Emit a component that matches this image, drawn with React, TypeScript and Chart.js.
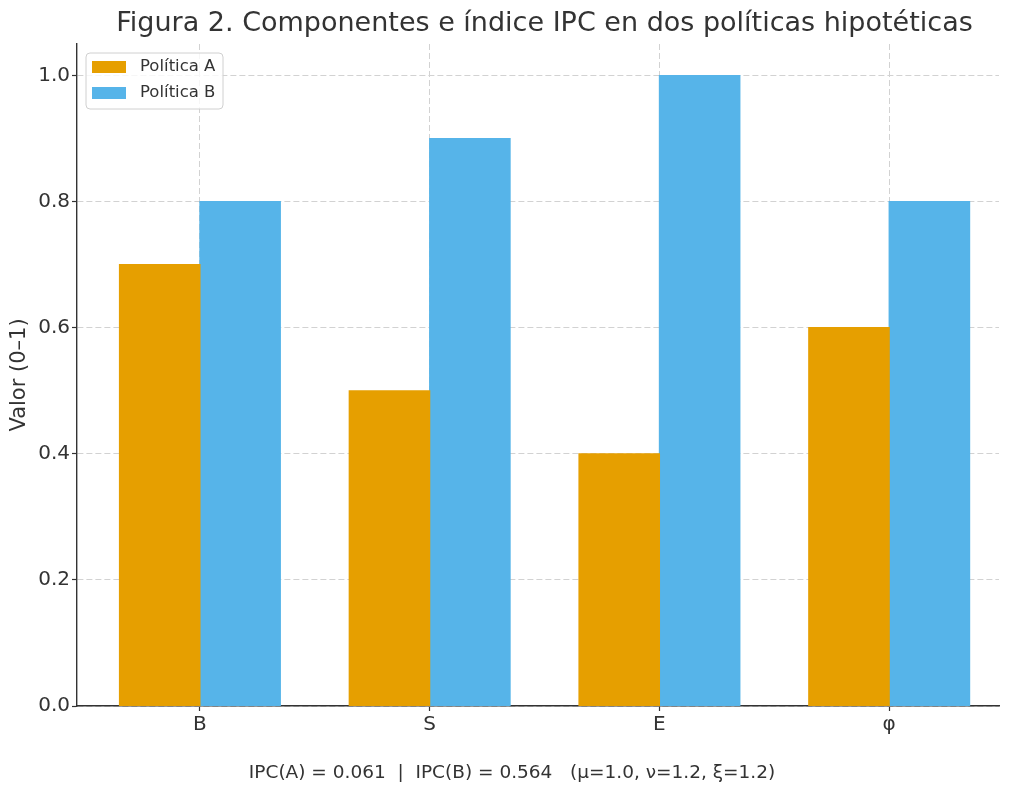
import React, { useEffect, useRef } from "react";
import { Chart, registerables } from "chart.js";

Chart.register(...registerables);

const categories = ["B", "S", "E", "φ"];
const politicaA = [0.7, 0.5, 0.4, 0.6];
const politicaB = [0.8, 0.9, 1.0, 0.8];
const yTicks = [0, 0.2, 0.4, 0.6, 0.8, 1.0];
const seriesNames = ["Política A", "Política B"];
const seriesColors = ["#E69F00", "#56B4E9"];
const titleText = "Figura 2. Componentes e índice IPC en dos políticas hipotéticas";
const footerText = "IPC(A) = 0.061  |  IPC(B) = 0.564   (μ=1.0, ν=1.2, ξ=1.2)";
const yLabel = "Valor (0–1)";

const FONT = "'DejaVu Sans', sans-serif";
const TEXT = "#333333";
const GRID = "#d2d2d2";

const legendPlugin = {
  id: "insideLegend",
  afterDatasetsDraw(chart: any) {
    const { ctx, chartArea } = chart;
    const x = chartArea.left + 9;
    const y = chartArea.top + 9;
    const w = 137;
    const h = 56;
    ctx.save();
    ctx.beginPath();
    ctx.roundRect(x, y, w, h, 4);
    ctx.fillStyle = "rgba(255,255,255,0.8)";
    ctx.fill();
    ctx.strokeStyle = "#d0d0d0";
    ctx.lineWidth = 1;
    ctx.stroke();
    ctx.font = `16.5px ${FONT}`;
    ctx.textBaseline = "middle";
    ctx.textAlign = "left";
    seriesNames.forEach((name, i) => {
      const cy = y + 14 + i * 26;
      ctx.fillStyle = seriesColors[i];
      ctx.fillRect(x + 6, cy - 6, 34, 12);
      ctx.fillStyle = TEXT;
      ctx.fillText(name, x + 54, cy);
    });
    ctx.restore();
  },
};

const textPlugin = {
  id: "titleFooter",
  afterDraw(chart: any) {
    const { ctx, chartArea, width } = chart;
    ctx.save();
    ctx.fillStyle = TEXT;
    ctx.textAlign = "center";
    ctx.textBaseline = "middle";
    ctx.font = `27px ${FONT}`;
    ctx.fillText(titleText, (chartArea.left + chartArea.right) / 2 + 6.5, 24);
    ctx.font = `18.5px ${FONT}`;
    ctx.fillText(footerText, width / 2, 773);
    ctx.restore();
  },
};

export default function App() {
  const ref = useRef<HTMLCanvasElement | null>(null);
  useEffect(() => {
    document.body.style.margin = "0";
    if (!ref.current) return;
    const chart = new Chart(ref.current, {
      type: "bar",
      data: {
        datasets: [
          {
            label: seriesNames[0],
            data: categories.map((_, i) => ({ x: i, y: politicaA[i] })),
            backgroundColor: seriesColors[0],
            categoryPercentage: 0.7,
            barPercentage: 1.0,
            inflateAmount: 0.6,
          },
          {
            label: seriesNames[1],
            data: categories.map((_, i) => ({ x: i, y: politicaB[i] })),
            backgroundColor: seriesColors[1],
            categoryPercentage: 0.7,
            barPercentage: 1.0,
            inflateAmount: 0.6,
          },
        ],
      },
      options: {
        animation: false,
        responsive: true,
        maintainAspectRatio: false,
        layout: { padding: { left: 0, right: 25, top: 44, bottom: 0 } },
        plugins: {
          legend: { display: false },
          tooltip: { enabled: false },
          title: { display: false },
        },
        scales: {
          x: {
            type: "linear",
            min: -0.535,
            max: 3.478,
            offset: false,
            afterBuildTicks: (scale: any) => {
              scale.ticks = categories.map((_, i) => ({ value: i }));
            },
            afterFit: (scale: any) => {
              scale.height = 91;
            },
            ticks: {
              callback: (v: any) => categories[Math.round(Number(v))],
              color: TEXT,
              font: { family: FONT, size: 20 },
              padding: 2,
              maxRotation: 0,
              autoSkip: false,
            },
            grid: {
              offset: false,
              color: GRID,
              lineWidth: 1,
              tickBorderDash: [],
              tickColor: TEXT,
              tickLength: 5,
              tickWidth: 1.2,
            },
            border: { display: true, color: TEXT, width: 1.4, dash: [6, 3] },
          },
          y: {
            type: "linear",
            min: 0,
            max: 1.05,
            afterBuildTicks: (scale: any) => {
              scale.ticks = yTicks.map((v) => ({ value: v }));
            },
            afterFit: (scale: any) => {
              scale.width = 77;
            },
            ticks: {
              callback: (v: any) => Number(v).toFixed(1),
              color: TEXT,
              font: { family: FONT, size: 20 },
              padding: 2,
            },
            grid: {
              color: GRID,
              lineWidth: 1,
              tickBorderDash: [],
              tickColor: TEXT,
              tickLength: 5,
              tickWidth: 1.2,
            },
            border: { display: true, color: TEXT, width: 1.4, dash: [6, 3] },
            title: {
              display: true,
              text: yLabel,
              color: TEXT,
              font: { family: FONT, size: 21 },
              padding: { top: 7, bottom: 0 },
            },
          },
        },
      },
      plugins: [legendPlugin, textPlugin],
    } as any);
    return () => chart.destroy();
  }, []);
  return (
    <div style={{ position: "absolute", left: 0, top: 0, width: 1024, height: 797 }}>
      <canvas ref={ref} />
    </div>
  );
}
